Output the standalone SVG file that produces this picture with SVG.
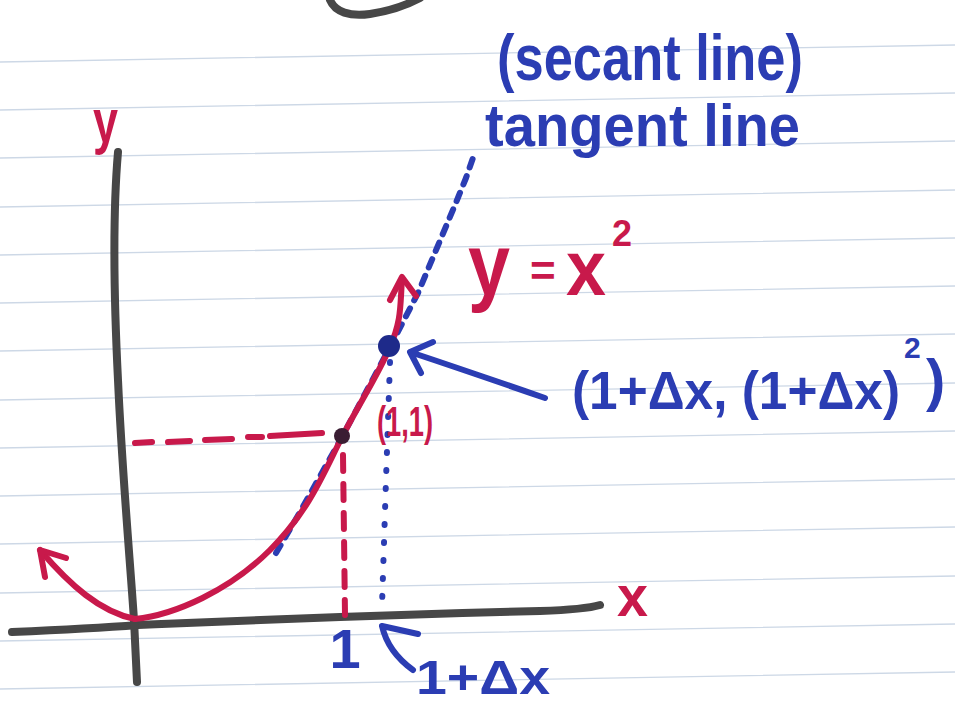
<svg xmlns="http://www.w3.org/2000/svg" width="955" height="704" viewBox="0 0 955 704">
<style>
.rule{stroke:#cdd8e6;stroke-width:1.3;fill:none}
.gray{stroke:#474747;stroke-width:8;fill:none;stroke-linecap:round;stroke-linejoin:round}
.red{stroke:#c8194b;stroke-width:6;fill:none;stroke-linecap:round;stroke-linejoin:round}
.blue{stroke:#2b3db3;stroke-width:6;fill:none;stroke-linecap:round;stroke-linejoin:round}
.tr{fill:#c8194b;font-family:"Liberation Sans",Arial,sans-serif;font-weight:700}
.tb{fill:#2b3db3;font-family:"Liberation Sans",Arial,sans-serif;font-weight:700}
</style>
<rect width="955" height="704" fill="#ffffff"/>
<g id="paper">
<path class="rule" d="M0,62 L955,45 M0,110 L955,93 M0,158 L955,141 M0,207 L955,190 M0,255 L955,238 M0,303 L955,286 M0,351 L955,334 M0,400 L955,383 M0,448 L955,431 M0,496 L955,479 M0,544 L955,527 M0,593 L955,576 M0,641 L955,624 M0,689 L955,672"/>
</g>
<g id="top-mark">
<path class="gray" stroke-width="9" d="M330,0 C335,12 350,17 370,14 C390,11 405,6 420,-2"/>
</g>
<g id="axes">
<path id="x-axis" class="gray" d="M12,632 C60,630 100,628 138,625 C200,622 260,620 340,617 C420,614 470,613 540,611 C570,610 590,608 600,605"/>
<path id="y-axis" class="gray" d="M118,152 C113,210 114,300 118,380 C122,470 130,560 134,620 L137,682"/>
</g>
<g id="guides">
<path id="secant" class="blue" stroke-width="5" stroke-dasharray="9 9" d="M276,553 L300,512 L342,437 L390,347 L418,293 L455,205 L466,178 L474,155"/>
<path id="drop-1dx" class="blue" stroke-dasharray="1 17" d="M390,362 L386,480 L382,606"/>
<path id="drop-1" class="red" stroke-width="7" stroke-dasharray="16 13" d="M343,455 L345,615"/>
<path id="level-1" class="red" stroke-width="6" d="M135,443 L152,442 M168,442 L190,441 M205,440 L232,439 M248,437 L262,437 M270,436 L322,433"/>
</g>
<g id="curve">
<path class="red" d="M40,550 C70,585 100,612 135,619"/>
<path class="red" d="M135,619 C175,615 230,590 270,550 S325,470 342,437 S378,375 390,347 S400,305 402,280"/>
<path class="red" d="M66,558 L40,550 L45,577"/>
<path class="red" stroke-width="7" d="M390,300 L402,277 L416,296"/>
</g>
<g id="point-1-1">
<circle cx="342" cy="436" r="8" fill="#3a1d33"/>
</g>
<g id="point-1dx">
<circle cx="389" cy="346" r="11" fill="#1e2a8a"/>
</g>
<g id="connectors">
<path class="blue" stroke-width="7" d="M545,398 Q470,372 410,352 M433,342 L410,352 L421,373"/>
<path class="blue" stroke-width="6" d="M413,670 Q388,652 382,626 M382,626 L418,634"/>
</g>
<g id="label-y-axis"><text class="tr" x="93" y="142" font-size="62" textLength="25" lengthAdjust="spacingAndGlyphs">y</text></g>
<g id="label-x-axis"><text class="tr" x="617" y="616" font-size="58" textLength="31" lengthAdjust="spacingAndGlyphs">x</text></g>
<g id="label-curve">
<text class="tr" x="468" y="295" font-size="88" textLength="42" lengthAdjust="spacingAndGlyphs">y</text>
<text class="tr" x="530" y="286" font-size="44">=</text>
<text class="tr" x="566" y="295" font-size="78" textLength="40" lengthAdjust="spacingAndGlyphs">x</text>
<text class="tr" x="612" y="246" font-size="36">2</text>
</g>
<g id="label-1-1"><text class="tr" x="377" y="436" font-size="43" textLength="56" lengthAdjust="spacingAndGlyphs">(1,1)</text></g>
<g id="label-secant"><text class="tb" x="497" y="80" font-size="64" textLength="306" lengthAdjust="spacingAndGlyphs">(secant line)</text></g>
<g id="label-tangent"><text class="tb" x="485" y="146" font-size="60" textLength="315" lengthAdjust="spacingAndGlyphs">tangent line</text></g>
<g id="label-point">
<text class="tb" x="572" y="409" font-size="54" textLength="328" lengthAdjust="spacingAndGlyphs">(1+Δx, (1+Δx)</text>
<text class="tb" x="904" y="358" font-size="30">2</text>
<text class="tb" x="926" y="400" font-size="58">)</text>
</g>
<g id="label-1"><text class="tb" x="345" y="668" font-size="56" text-anchor="middle">1</text></g>
<g id="label-1dx"><text class="tb" x="416" y="694" font-size="48" textLength="134" lengthAdjust="spacingAndGlyphs">1+Δx</text></g>
</svg>
